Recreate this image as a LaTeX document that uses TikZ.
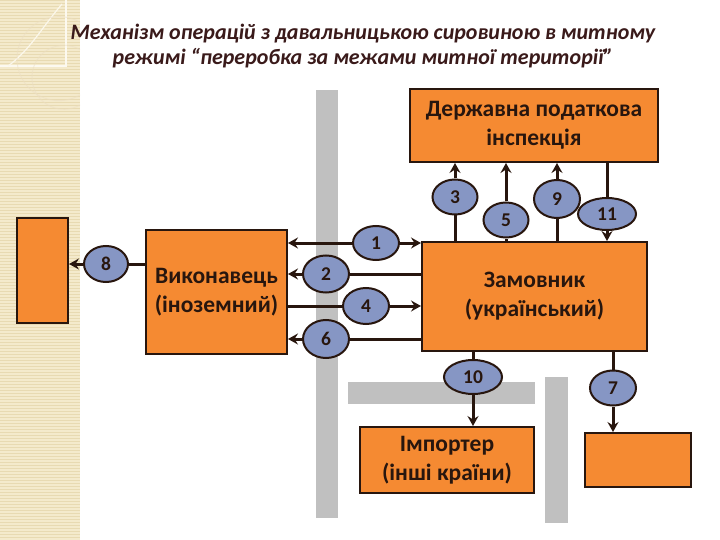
\documentclass[tikz,border=0pt]{standalone}
\usepackage{fontspec}
\setmainfont{Carlito}
\usetikzlibrary{shapes.geometric,arrows.meta}
\definecolor{orng}{RGB}{245,138,50}
\definecolor{elfill}{RGB}{134,150,196}
\definecolor{barg}{RGB}{192,192,192}
\definecolor{beige}{RGB}{244,234,204}
\definecolor{beigeline}{RGB}{232,218,178}
\definecolor{txt}{RGB}{40,22,14}
\definecolor{ttl}{RGB}{58,26,26}
\tikzset{
  box/.style={draw=txt,line width=2pt,fill=orng,inner sep=0pt,align=center,text=txt,font=\fontsize{23.5}{29}\selectfont\bfseries},
  num/.style={ellipse,draw=txt,line width=2pt,fill=elfill,inner sep=0pt,text=txt,font=\fontsize{19.5}{20}\selectfont\bfseries,minimum width=46pt,minimum height=36pt},
  conn/.style={draw=txt,line width=3pt},
  arr/.style={conn,-{Stealth[length=10pt,width=11pt,inset=3.5pt]}}
}
\begin{document}
\begin{tikzpicture}[x=1pt,y=-1pt]
\useasboundingbox (0,0) rectangle (720,540);
\fill[white] (0,0) rectangle (720,540);
% left decorative strip
\fill[beige] (0,0) rectangle (80,540);
\foreach \yy in {0,3,...,540} {\draw[beigeline,line width=0.6pt] (0,\yy) -- (80,\yy);}
\draw[white!70!beige,line width=1.5pt] (0,66) -- (66,66) -- (66,0);
\draw[white!60!beige,line width=1.2pt] (62,4) .. controls (40,30) and (30,50) .. (8,66);
\draw[beigeline!80!brown!60,line width=1pt,opacity=0.5] (80,95) arc (60:300:42);
\draw[beigeline!80!brown!60,line width=1pt,opacity=0.5] (80,105) arc (60:300:32);
% title
\node[font=\fontsize{22}{25}\selectfont\bfseries\itshape,text=ttl,align=center] (title) at (363,46)
  {Механізм операцій з давальницькою сировиною в митному\\режимі “переробка за межами митної території"};
% gray bars
\fill[barg] (316,90) rectangle (338,518);
\fill[barg] (348,382) rectangle (535,404);
\fill[barg] (545,377) rectangle (568,523);
% boxes
\node[box,minimum width=51pt,minimum height=105pt] (lbox) at (42.5,270.5) {};
\node[box,minimum width=141pt,minimum height=124pt] (vyk) at (216.5,292) {Виконавець\\(іноземний)};
\node[box,minimum width=248pt,minimum height=73pt] (dpi) at (534,125.5) {Державна податкова\\інспекція};
\node[box,minimum width=225pt,minimum height=109pt] (zam) at (534.5,296.5) {Замовник\\(український)};
\node[box,minimum width=174pt,minimum height=66pt] (imp) at (447,460) {Імпортер\\(інші країни)};
\node[box,minimum width=106pt,minimum height=54pt] (brb) at (638,460) {};
% ellipses
\node[num,minimum width=44pt,minimum height=36pt] (e8) at (106,264) {8};
\node[num,minimum height=34pt] (e1) at (376,243) {1};
\node[num,minimum height=37pt] (e2) at (326,274) {2};
\node[num] (e4) at (366,306) {4};
\node[num,minimum height=38pt] (e6) at (326,339) {6};
\node[num,minimum width=45pt,minimum height=35pt] (e3) at (455,197) {3};
\node[num,minimum width=45pt,minimum height=35pt] (e5) at (506,220) {5};
\node[num,minimum width=46pt,minimum height=38pt] (e9) at (557,199) {9};
\node[num,minimum width=58pt,minimum height=32pt] (e11) at (607,214) {11};
\node[num,minimum width=58pt,minimum height=34pt] (e10) at (473,377) {10};
\node[num,minimum width=46pt,minimum height=35pt] (e7) at (613,388) {7};
% connectors
\draw[conn] (vyk.west |- e8) -- (e8);
\draw[arr] (e8) -- (lbox.east |- e8);
\draw[arr] (e1) -- (vyk.east |- e1);
\draw[arr] (e1) -- (zam.west |- e1);
\draw[conn] (zam.west |- e2) -- (e2);
\draw[arr] (e2) -- (vyk.east |- e2);
\draw[conn] (vyk.east |- e4) -- (e4);
\draw[arr] (e4) -- (zam.west |- e4);
\draw[conn] (zam.west |- e6) -- (e6);
\draw[arr] (e6) -- (vyk.east |- e6);
\draw[conn] (zam.north -| e3) -- (e3);
\draw[arr] (e3) -- (dpi.south -| e3);
\draw[conn] (zam.north -| e5) -- (e5);
\draw[arr] (e5) -- (dpi.south -| e5);
\draw[conn] (zam.north -| e9) -- (e9);
\draw[arr] (e9) -- (dpi.south -| e9);
\draw[conn] (dpi.south -| e11) -- (e11);
\draw[arr] (e11) -- (zam.north -| e11);
\draw[conn] (zam.south -| e10) -- (e10);
\draw[arr] (e10) -- (imp.north -| e10);
\draw[conn] (zam.south -| e7) -- (e7);
\draw[arr] (e7) -- (brb.north -| e7);
\end{tikzpicture}
\end{document}
